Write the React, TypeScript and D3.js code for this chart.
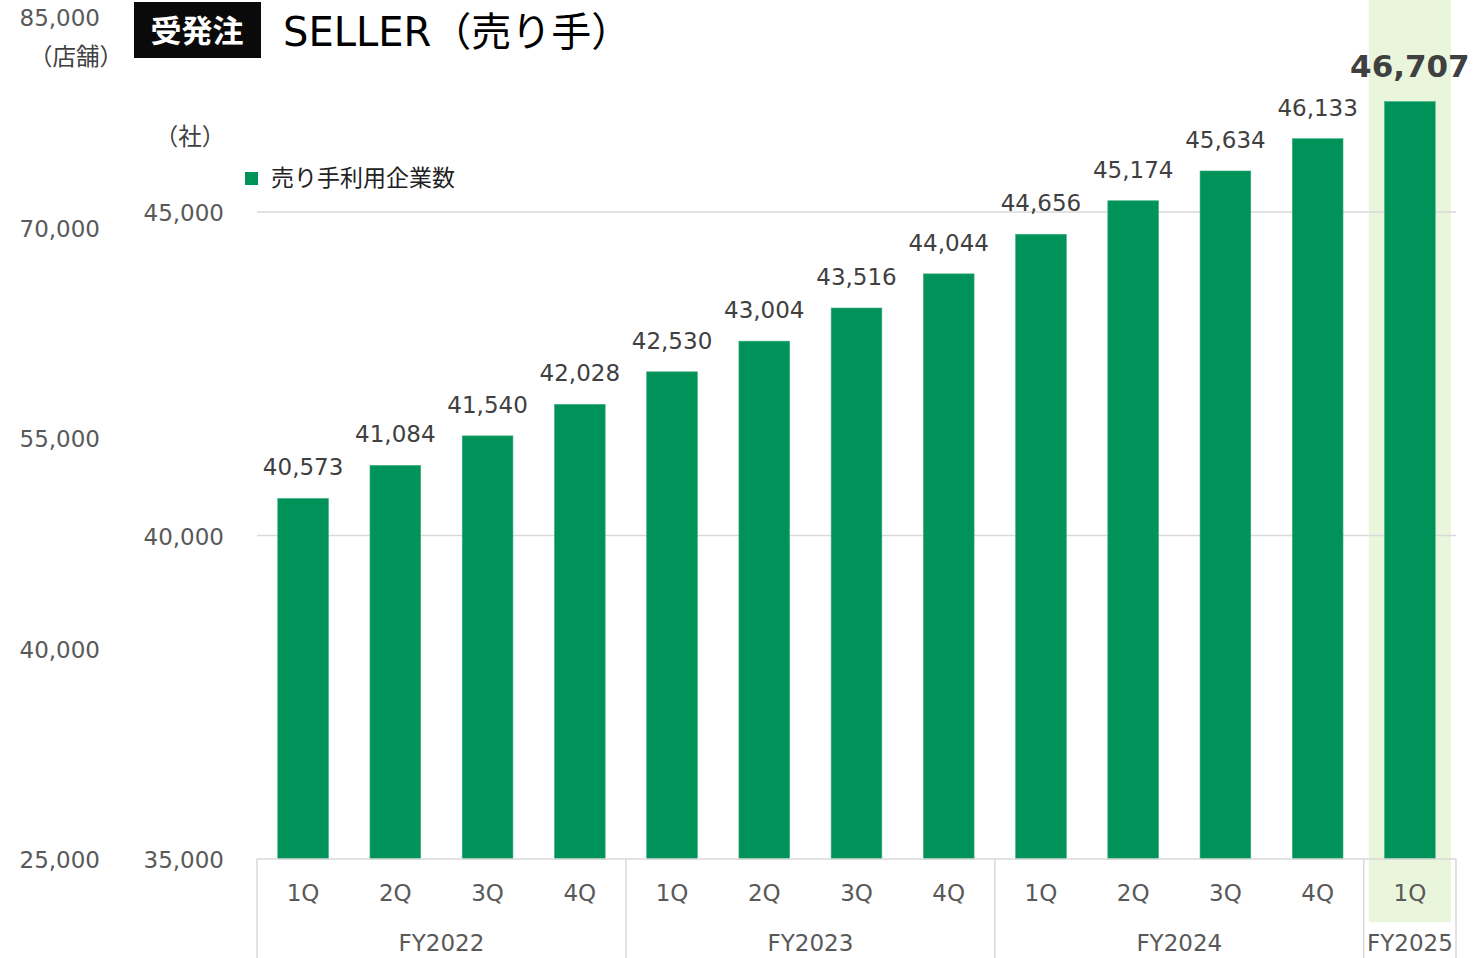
import React from "react";
import * as d3 from "d3";

// seller companies per quarter
const quarters = ["1Q", "2Q", "3Q", "4Q", "1Q", "2Q", "3Q", "4Q", "1Q", "2Q", "3Q", "4Q", "1Q"];
const fiscalYears = ["FY2022", "FY2023", "FY2024", "FY2025"];
const quartersPerYear = [4, 4, 4, 1];
const sellers = [40573, 41084, 41540, 42028, 42530, 43004, 43516, 44044, 44656, 45174, 45634, 46133, 46707];
const leftTicks = [35000, 40000, 45000];
const outerTicks = [25000, 40000, 55000, 70000, 85000];
const legendLabel = "売り手利用企業数";

const W = 1481;
const H = 958;
const FONT = "'DejaVu Sans', 'Noto Sans CJK JP', sans-serif";
const GREEN = "#009359";

export default function App() {
    const x = d3.scaleBand<number>()
        .domain(d3.range(sellers.length))
        .range([257, 1456])
        .paddingInner(0.45)
        .paddingOuter(0.225);
    const y = d3.scaleLinear().domain([35000, 45000]).range([859, 212]);
    const yOuter = d3.scaleLinear().domain([25000, 85000]).range([860, 18]);
    const step = x.step();
    const bw = x.bandwidth();
    const edge = (i: number) => (x(i) as number) - step * 0.225;
    const fmt = d3.format(",");
    const last = sellers.length - 1;
    const lastCx = (x(last) as number) + bw / 2;

    // group boundaries
    let acc = 0;
    const groups = quartersPerYear.map((n, g) => {
        const start = acc;
        acc += n;
        return { label: fiscalYears[g], start, end: acc };
    });

    return (
        <svg width={W} height={H} style={{ position: "absolute", left: 0, top: 0, background: "#fff" }}
            fontFamily={FONT}>
            {/* highlight for latest quarter */}
            <rect x={lastCx - 41} y={0} width={82} height={922} fill="#eaf6dc" />

            {/* title */}
            <rect x={134} y={2} width={127} height={56} fill="#0a0a0a" />
            <text x={197} y={31} fill="#fff" fontSize={31} fontWeight="bold" textAnchor="middle"
                dominantBaseline="central">受発注</text>
            <text x={283} y={32} fill="#000" fontSize={40} dominantBaseline="central">SELLER（売り手）</text>

            {/* unit labels */}
            <text x={76} y={57} fill="#404040" fontSize={23.5} textAnchor="middle" dominantBaseline="central">（店舗）</text>
            <text x={190} y={137} fill="#404040" fontSize={23.5} textAnchor="middle" dominantBaseline="central">（社）</text>

            {/* legend */}
            <rect x={245} y={172} width={13} height={13} fill={GREEN} />
            <text x={271} y={178} fill="#222" fontSize={23} dominantBaseline="central">{legendLabel}</text>

            {/* outer axis labels */}
            {outerTicks.map(t => (
                <text key={"o" + t} x={100} y={yOuter(t)} fill="#595959" fontSize={23}
                    textAnchor="end" dominantBaseline="central">{fmt(t)}</text>
            ))}

            {/* gridlines + left axis labels */}
            {leftTicks.map(t => (
                <g key={"l" + t}>
                    {t > 35000 && <line x1={257} x2={1456} y1={y(t)} y2={y(t)} stroke="#d9d9d9" strokeWidth={1.5} />}
                    <text x={224} y={y(t) + 1} fill="#595959" fontSize={23}
                        textAnchor="end" dominantBaseline="central">{fmt(t)}</text>
                </g>
            ))}

            {/* bars */}
            {sellers.map((v, i) => (
                <rect key={"b" + i} x={x(i)} y={y(v)} width={bw} height={y(35000) - y(v)}
                    fill={GREEN} stroke="#3fae7f" strokeWidth={0.6} />
            ))}

            {/* value labels */}
            {sellers.map((v, i) => (
                <text key={"v" + i} x={(x(i) as number) + bw / 2}
                    y={y(v) - (i === last ? 36 : 31)}
                    fill="#404040" fontSize={i === last ? 31 : 23}
                    fontWeight={i === last ? "bold" : "normal"}
                    textAnchor="middle" dominantBaseline="central">{fmt(v)}</text>
            ))}

            {/* category axis */}
            <line x1={257} x2={1456} y1={859} y2={859} stroke="#d9d9d9" strokeWidth={1.5} />
            {groups.map(g => (
                <line key={"s" + g.start} x1={edge(g.start)} x2={edge(g.start)} y1={859} y2={H}
                    stroke="#d9d9d9" strokeWidth={1.5} />
            ))}
            <line x1={1456} x2={1456} y1={859} y2={H} stroke="#d9d9d9" strokeWidth={1.5} />
            {quarters.map((q, i) => (
                <text key={"q" + i} x={(x(i) as number) + bw / 2} y={893} fill="#595959" fontSize={23}
                    textAnchor="middle" dominantBaseline="central">{q}</text>
            ))}
            {groups.map(g => (
                <text key={"f" + g.label} x={(edge(g.start) + edge(g.start) + (g.end - g.start) * step) / 2}
                    y={943} fill="#595959" fontSize={23}
                    textAnchor="middle" dominantBaseline="central">{g.label}</text>
            ))}
        </svg>
    );
}
